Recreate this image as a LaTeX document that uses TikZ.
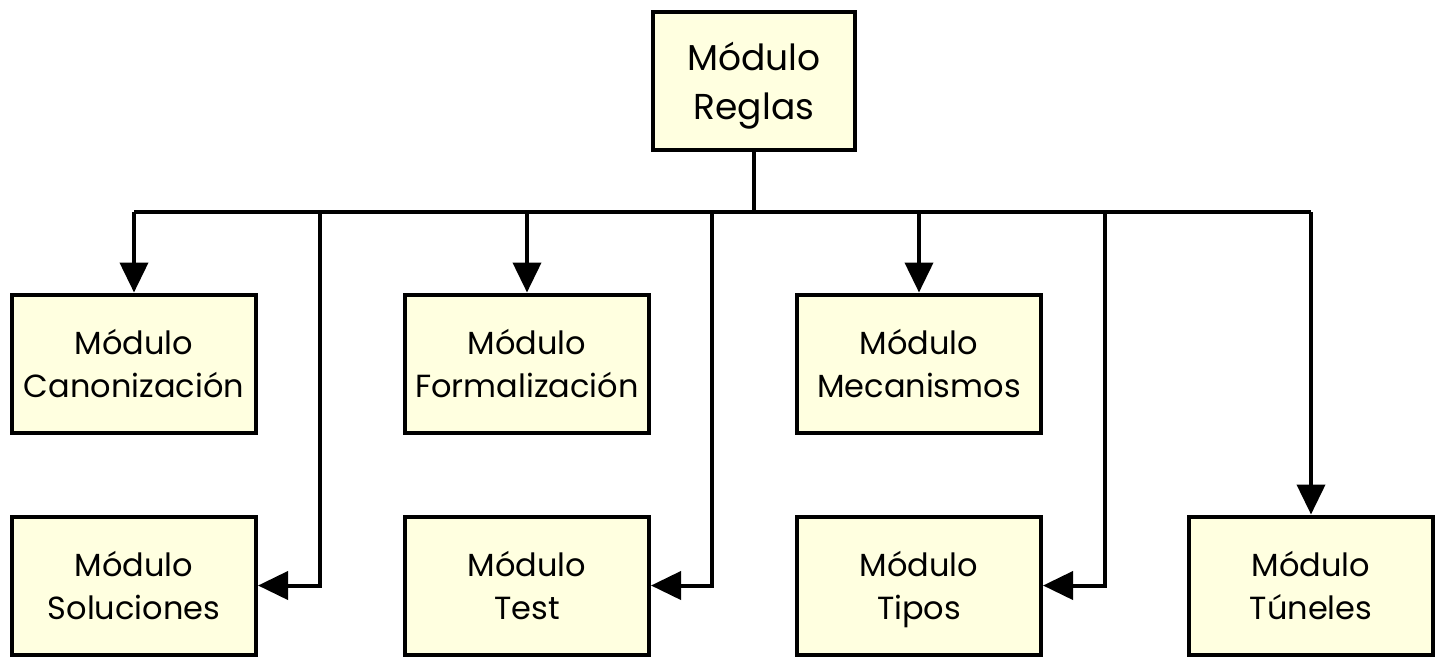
\documentclass[tikz,border=0pt]{standalone}
\usepackage{fontspec}
\setmainfont{Poppins}
\usetikzlibrary{arrows.meta}
\definecolor{boxfill}{HTML}{FFFFE0}
\newcommand{\twolines}[3]{\rule{0pt}{#1}#2\\#3\strut}
\tikzset{
  modbox/.style={draw=black, line width=2pt, fill=boxfill, minimum width=122pt, minimum height=69pt, inner sep=0pt, align=center, font=\fontsize{16}{21.5}\selectfont},
  topbox/.style={modbox, minimum width=101pt, font=\fontsize{18}{24.5}\selectfont},
  conn/.style={line width=2pt},
  arr/.style={line width=2pt, -{Triangle[length=15pt,width=14pt]}}
}
\begin{document}
\begin{tikzpicture}[x=0.5pt,y=-0.5pt]
\useasboundingbox (0,0) rectangle (1445,666);
\node[topbox] (reglas) at (754,80.5) {\twolines{22.2pt}{Módulo}{Reglas}};
\node[modbox] (canon) at (134,363.5) {\twolines{19pt}{Módulo}{Canonización}};
\node[modbox] (formal) at (527,363.5) {\twolines{19pt}{Módulo}{Formalización}};
\node[modbox] (mecan) at (919,363.5) {\twolines{19pt}{Módulo}{Mecanismos}};
\node[modbox] (soluc) at (134,585.5) {\twolines{19pt}{Módulo}{Soluciones}};
\node[modbox] (test) at (527,585.5) {\twolines{19pt}{Módulo}{Test}};
\node[modbox] (tipos) at (919,585.5) {\twolines{19pt}{Módulo}{Tipos}};
\node[modbox] (tuneles) at (1311,585.5) {\twolines{19pt}{Módulo}{Túneles}};
\coordinate (busL) at (134,212);
\coordinate (busR) at (1311,212);
\coordinate (b1) at (320,212);
\coordinate (b2) at (712,212);
\coordinate (b3) at (1105,212);
\draw[conn] (reglas.south) -- (reglas.south |- busL);
\draw[conn] (busL) -- (busR);
\draw[arr] (canon.north |- busL) -- (canon.north);
\draw[arr] (formal.north |- busL) -- (formal.north);
\draw[arr] (mecan.north |- busL) -- (mecan.north);
\draw[arr] (busR) -- (tuneles.north);
\draw[arr] (b1) |- (soluc.east);
\draw[arr] (b2) |- (test.east);
\draw[arr] (b3) |- (tipos.east);
\end{tikzpicture}
\end{document}
